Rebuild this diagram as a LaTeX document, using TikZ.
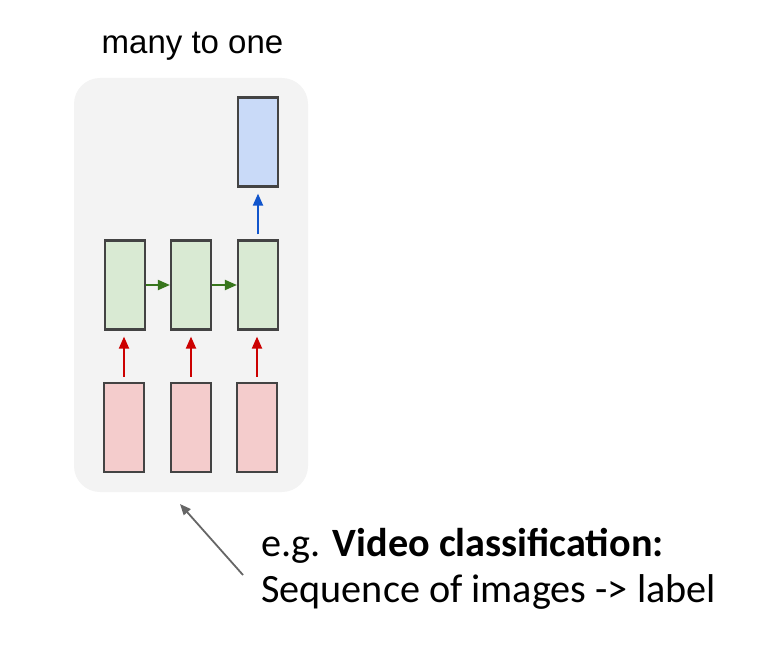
\documentclass[tikz,border=0pt]{standalone}
\usepackage{fontspec}
\setmainfont{Liberation Sans}
\newfontfamily\calfont{Carlito}
\usetikzlibrary{arrows.meta}
\definecolor{panel}{HTML}{F3F3F3}
\definecolor{boxline}{HTML}{434343}
\definecolor{bluefill}{HTML}{C9DAF8}
\definecolor{greenfill}{HTML}{D9EAD3}
\definecolor{redfill}{HTML}{F4CCCC}
\definecolor{redarrow}{HTML}{CC0000}
\definecolor{greenarrow}{HTML}{38761D}
\definecolor{bluearrow}{HTML}{1155CC}
\definecolor{pointer}{HTML}{666666}
\tikzset{
  cell/.style={draw=boxline, line width=2.2pt, minimum width=40pt, minimum height=89pt, inner sep=0pt},
  outcell/.style={cell, fill=bluefill},
  hidcell/.style={cell, fill=greenfill},
  incell/.style={cell, fill=redfill},
  flow/.style={line width=2pt, -{Triangle[length=12pt,width=10pt]}},
}
\begin{document}
\begin{tikzpicture}[x=1pt,y=-1pt]
\useasboundingbox (0,0) rectangle (782,647);
\node[fill=panel, rounded corners=26pt, minimum width=234pt, minimum height=414pt, inner sep=0pt] (panel) at (191,285) {};
\node[anchor=base, font=\fontsize{33}{38}\selectfont] (title) at (192.5,54) {many to one};
\node[outcell] (o) at (258,142) {};
\node[hidcell] (h1) at (125,285) {};
\node[hidcell] (h2) at (191,285) {};
\node[hidcell] (h3) at (258,285) {};
\node[incell] (x1) at (124,427.5) {};
\node[incell] (x2) at (191,427.5) {};
\node[incell] (x3) at (257,427.5) {};
\draw[flow, redarrow] ([yshift=5pt]x1.north) -- ([yshift=-6pt]x1.north |- h1.south);
\draw[flow, redarrow] ([yshift=5pt]x2.north) -- ([yshift=-6pt]x2.north |- h2.south);
\draw[flow, redarrow] ([yshift=5pt]x3.north) -- ([yshift=-6pt]x3.north |- h3.south);
\draw[flow, greenarrow] (h1.east) -- (h2.west);
\draw[flow, greenarrow] (h2.east) -- (h3.west);
\draw[flow, bluearrow] ([yshift=5pt]h3.north) -- ([yshift=-6pt]o.south);
\node[anchor=base west, font=\calfont\fontsize{40.2}{46}\selectfont, inner sep=0pt] (cap) at (261,556) {e.g. \textbf{Video classification:}};
\node[anchor=base west, font=\calfont\fontsize{40.2}{46}\selectfont, inner sep=0pt] (cap2) at (261,602) {Sequence of images -> label};
\coordinate (tail) at (243,575);
\coordinate (tip) at (180,504);
\draw[pointer, line width=1.8pt, -{Triangle[length=11pt,width=9pt]}] (tail) -- (tip);
\end{tikzpicture}
\end{document}
